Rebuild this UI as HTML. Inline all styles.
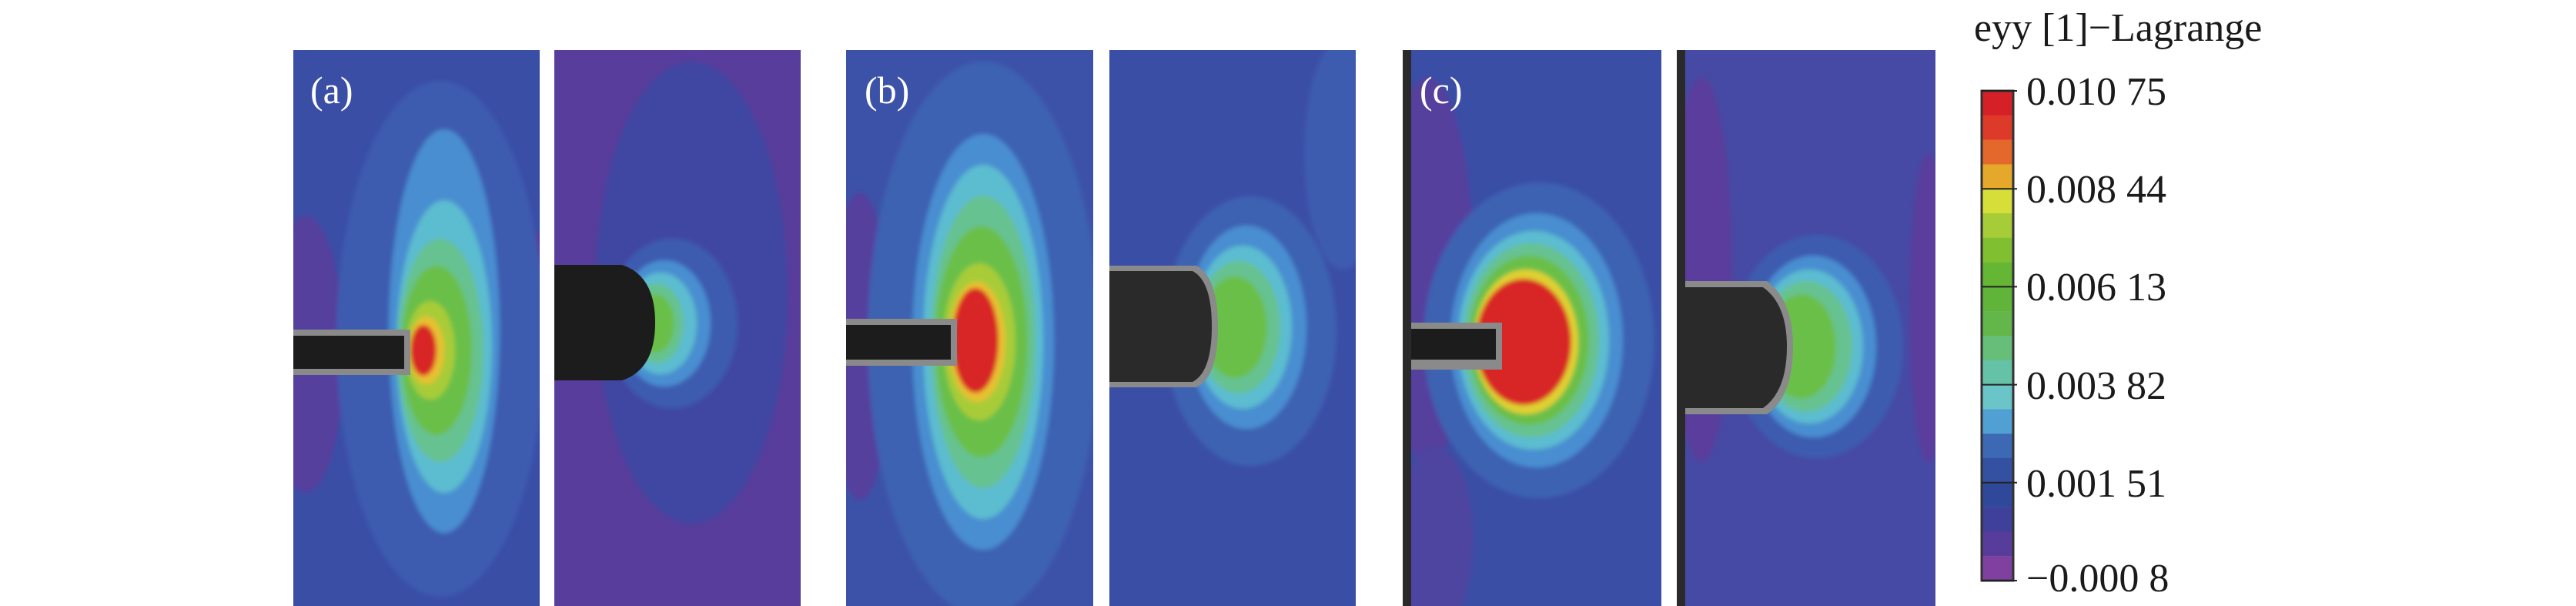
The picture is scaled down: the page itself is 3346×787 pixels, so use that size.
<!DOCTYPE html>
<html><head><meta charset="utf-8"><style>
html,body{margin:0;padding:0;background:#fff;}
svg{display:block;}
text{font-family:"Liberation Serif",serif;}
</style></head><body>
<svg width="3346" height="787" viewBox="0 0 3346 787" xmlns="http://www.w3.org/2000/svg">
<defs>
<clipPath id="ca1"><rect x="384" y="65" width="320" height="722"/></clipPath>
<clipPath id="ca2"><rect x="727" y="65" width="320" height="722"/></clipPath>
<clipPath id="cb1"><rect x="1112" y="65" width="321" height="722"/></clipPath>
<clipPath id="cb2"><rect x="1457" y="65" width="320" height="722"/></clipPath>
<clipPath id="cc1"><rect x="1838" y="65" width="336" height="722"/></clipPath>
<clipPath id="cc2"><rect x="2188" y="65" width="336" height="722"/></clipPath>
<filter id="bl" x="-10%" y="-10%" width="120%" height="120%"><feGaussianBlur stdDeviation="3"/></filter>
</defs>

<!-- Panel a1 -->
<g transform="translate(-3,0)">
<g clip-path="url(#ca1)">
<rect x="384" y="65" width="323" height="722" fill="#3a4ea6"/>
<g filter="url(#bl)">
<ellipse cx="400" cy="460" rx="50" ry="180" fill="#553f9e"/>
<ellipse cx="705" cy="420" rx="25" ry="120" fill="#553f9e"/>
<ellipse cx="575" cy="440" rx="135" ry="335" fill="#3d5cb0"/>
<ellipse cx="580" cy="430" rx="72" ry="262" fill="#4a8ed0"/>
<ellipse cx="580" cy="450" rx="62" ry="190" fill="#5cbcd0"/>
<ellipse cx="575" cy="455" rx="56" ry="145" fill="#66c290"/>
<ellipse cx="570" cy="455" rx="46" ry="110" fill="#6abf48"/>
<ellipse cx="562" cy="455" rx="32" ry="64" fill="#a8cc38"/>
<ellipse cx="557" cy="455" rx="23" ry="44" fill="#e8c030"/>
<ellipse cx="553" cy="455" rx="17" ry="33" fill="#d82828"/>
</g>
<rect x="384" y="428" width="152" height="59" fill="#8a8a8a"/>
<rect x="384" y="436" width="144" height="43" fill="#1c1c1c"/>
</g>
<text x="406" y="134" font-size="50" fill="#fff">(a)</text>
</g>

<!-- Panel a2 -->
<g transform="translate(-7,0)">
<g clip-path="url(#ca2)">
<rect x="727" y="65" width="323" height="722" fill="#583d9c"/>
<g filter="url(#bl)">
<ellipse cx="905" cy="380" rx="125" ry="300" fill="#3f47a2"/>
<ellipse cx="880" cy="420" rx="85" ry="110" fill="#3d5cb0"/>
<ellipse cx="870" cy="420" rx="60" ry="82" fill="#4a8ed0"/>
<ellipse cx="865" cy="420" rx="47" ry="66" fill="#5cbcd0"/>
<ellipse cx="860" cy="420" rx="35" ry="52" fill="#66c290"/>
<ellipse cx="858" cy="420" rx="25" ry="38" fill="#6abf48"/>
</g>
<path d="M727,344 H815 Q858,358 858,419 Q858,480 815,494 H727 Z" fill="#1c1c1c"/>
</g>
</g>

<!-- Panel b1 -->
<g transform="translate(-13,0)">
<g clip-path="url(#cb1)">
<rect x="1112" y="65" width="324" height="722" fill="#3c52a8"/>
<g filter="url(#bl)">
<ellipse cx="1130" cy="450" rx="40" ry="200" fill="#553f9e"/>
<ellipse cx="1290" cy="440" rx="150" ry="360" fill="#3d62b2"/>
<ellipse cx="1290" cy="444" rx="92" ry="270" fill="#4a8ed0"/>
<ellipse cx="1290" cy="444" rx="78" ry="230" fill="#5cbcd0"/>
<ellipse cx="1290" cy="444" rx="68" ry="190" fill="#66c290"/>
<ellipse cx="1288" cy="444" rx="60" ry="150" fill="#6abf48"/>
<ellipse cx="1285" cy="444" rx="47" ry="102" fill="#a8cc38"/>
<ellipse cx="1282" cy="444" rx="37" ry="78" fill="#e8c030"/>
<ellipse cx="1280" cy="442" rx="30" ry="68" fill="#d82828"/>
</g>
<rect x="1112" y="414" width="144" height="61" fill="#8a8a8a"/>
<rect x="1112" y="422" width="136" height="45" fill="#1c1c1c"/>
</g>
<text x="1136" y="134" font-size="50" fill="#fff">(b)</text>
</g>

<!-- Panel b2 -->
<g transform="translate(-16,0)">
<g clip-path="url(#cb2)">
<rect x="1457" y="65" width="324" height="722" fill="#3b4ea6"/>
<g filter="url(#bl)">
<ellipse cx="1760" cy="200" rx="50" ry="150" fill="#3d5cb0"/>
<ellipse cx="1640" cy="430" rx="112" ry="175" fill="#3d62b2"/>
<ellipse cx="1635" cy="425" rx="78" ry="132" fill="#4a8ed0"/>
<ellipse cx="1630" cy="425" rx="64" ry="106" fill="#5cbcd0"/>
<ellipse cx="1625" cy="425" rx="54" ry="86" fill="#66c290"/>
<ellipse cx="1620" cy="425" rx="42" ry="66" fill="#6abf48"/>
</g>
<path d="M1457,345 H1570 Q1598,360 1598,424 Q1598,490 1570,503 H1457 Z" fill="#8a8a8a"/>
<path d="M1457,352 H1565 Q1590,365 1590,424 Q1590,483 1565,496 H1457 Z" fill="#2a2a2a"/>
</g>
</g>

<!-- Panel c1 -->
<g transform="translate(-16,0)">
<g clip-path="url(#cc1)">
<rect x="1838" y="65" width="336" height="722" fill="#3a4ea6"/>
<g filter="url(#bl)">
<ellipse cx="1870" cy="350" rx="60" ry="250" fill="#553f9e"/>
<ellipse cx="1880" cy="700" rx="50" ry="120" fill="#4e45a0"/>
<ellipse cx="2015" cy="442" rx="150" ry="205" fill="#3d62b2"/>
<ellipse cx="2012" cy="442" rx="112" ry="165" fill="#4a8ed0"/>
<ellipse cx="2008" cy="442" rx="98" ry="142" fill="#5cbcd0"/>
<ellipse cx="2005" cy="442" rx="88" ry="126" fill="#66c290"/>
<ellipse cx="2002" cy="442" rx="78" ry="110" fill="#6abf48"/>
<ellipse cx="1998" cy="444" rx="68" ry="94" fill="#e0d030"/>
<ellipse cx="1995" cy="444" rx="62" ry="82" fill="#d82828"/>
</g>
<rect x="1838" y="65" width="11" height="722" fill="#2a2a2a"/>
<rect x="1849" y="419" width="118" height="61" fill="#8a8a8a"/>
<rect x="1849" y="427" width="110" height="40" fill="#1c1c1c"/>
</g>
<text x="1860" y="134" font-size="50" fill="#fff">(c)</text>
</g>

<!-- Panel c2 -->
<g transform="translate(-10,0)">
<g clip-path="url(#cc2)">
<rect x="2188" y="65" width="336" height="722" fill="#464aa4"/>
<g filter="url(#bl)">
<ellipse cx="2220" cy="350" rx="40" ry="250" fill="#5a3e9c"/>
<ellipse cx="2515" cy="400" rx="25" ry="200" fill="#5a3e9c"/>
<ellipse cx="2370" cy="450" rx="112" ry="145" fill="#3d5cb0"/>
<ellipse cx="2365" cy="450" rx="82" ry="118" fill="#4a8ed0"/>
<ellipse cx="2360" cy="450" rx="70" ry="100" fill="#5cbcd0"/>
<ellipse cx="2356" cy="450" rx="60" ry="85" fill="#66c290"/>
<ellipse cx="2350" cy="450" rx="45" ry="68" fill="#6abf48"/>
</g>
<rect x="2188" y="65" width="11" height="722" fill="#2a2a2a"/>
<path d="M2199,365 H2305 Q2339,390 2339,450 Q2339,515 2305,538 H2199 Z" fill="#8a8a8a"/>
<path d="M2199,373 H2300 Q2331,395 2331,450 Q2331,508 2300,530 H2199 Z" fill="#2a2a2a"/>
</g>
</g>

<!-- Colorbar -->
<text x="2564" y="53" font-size="52" fill="#1a1a1a">eyy [1]−Lagrange</text>
<g>
<rect x="2574" y="118.0" width="41" height="32" fill="#d62028"/>
<rect x="2574" y="149.8" width="41" height="32" fill="#dd3a2a"/>
<rect x="2574" y="181.6" width="41" height="32" fill="#e4672b"/>
<rect x="2574" y="213.4" width="41" height="32" fill="#e6a82a"/>
<rect x="2574" y="245.2" width="41" height="32" fill="#d6df3a"/>
<rect x="2574" y="277.0" width="41" height="32" fill="#a6cc38"/>
<rect x="2574" y="308.8" width="41" height="32" fill="#7fbf30"/>
<rect x="2574" y="340.6" width="41" height="32" fill="#64b634"/>
<rect x="2574" y="372.4" width="41" height="32" fill="#60b43a"/>
<rect x="2574" y="404.2" width="41" height="32" fill="#62b64a"/>
<rect x="2574" y="436.0" width="41" height="32" fill="#66be78"/>
<rect x="2574" y="467.8" width="41" height="32" fill="#66c2a6"/>
<rect x="2574" y="499.6" width="41" height="32" fill="#6ac4c8"/>
<rect x="2574" y="531.4" width="41" height="32" fill="#50a0d4"/>
<rect x="2574" y="563.2" width="41" height="32" fill="#3c68b4"/>
<rect x="2574" y="595.0" width="41" height="32" fill="#3450a0"/>
<rect x="2574" y="626.8" width="41" height="32" fill="#30489a"/>
<rect x="2574" y="658.6" width="41" height="32" fill="#3e409a"/>
<rect x="2574" y="690.4" width="41" height="32" fill="#583c9c"/>
<rect x="2574" y="722.2" width="41" height="32" fill="#8040a0"/>
<rect x="2574" y="118" width="41" height="636" fill="none" stroke="#333" stroke-width="3"/>
<g stroke="#222" stroke-width="2">
<line x1="2574" y1="245.2" x2="2620" y2="245.2"/>
<line x1="2574" y1="372.4" x2="2620" y2="372.4"/>
<line x1="2574" y1="499.6" x2="2620" y2="499.6"/>
<line x1="2574" y1="626.8" x2="2620" y2="626.8"/>
<line x1="2574" y1="118" x2="2620" y2="118"/>
<line x1="2574" y1="754" x2="2620" y2="754"/>
</g>
</g>
<g font-size="52" fill="#1a1a1a">
<text x="2632" y="136">0.010 75</text>
<text x="2632" y="263">0.008 44</text>
<text x="2632" y="390">0.006 13</text>
<text x="2632" y="518">0.003 82</text>
<text x="2632" y="645">0.001 51</text>
<text x="2632" y="768">−0.000 8</text>
</g>
</svg>
</body></html>
